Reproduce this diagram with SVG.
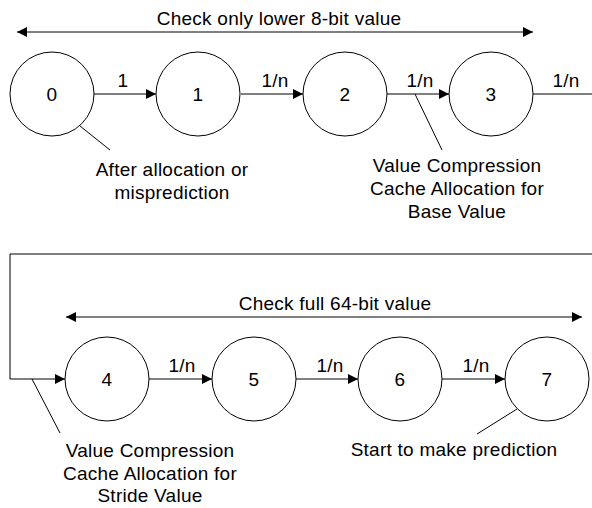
<svg xmlns="http://www.w3.org/2000/svg" width="592" height="508" viewBox="0 0 592 508">
  <style>
    .st { fill: #fff; stroke: #000; stroke-width: 1; }
    .ln { fill: none; stroke: #000; stroke-width: 1; }
    .t { font-family: "Liberation Sans", Arial, sans-serif; font-size: 19px; letter-spacing: 0.25px; fill: #000; text-anchor: middle; }
  </style>
  <defs>
    <marker id="arr" viewBox="0 0 10 10" refX="10" refY="5" markerWidth="10" markerHeight="10" markerUnits="userSpaceOnUse" orient="auto-start-reverse">
      <path d="M0,0 L10,5 L0,10 z" fill="#000"/>
    </marker>
  </defs>

  <!-- connectors -->
  <g id="connectors">
    <!-- range markers -->
    <line class="ln" x1="17" y1="32" x2="533" y2="32" marker-start="url(#arr)" marker-end="url(#arr)"/>
    <line class="ln" x1="66" y1="317" x2="582" y2="317" marker-start="url(#arr)" marker-end="url(#arr)"/>
    <!-- top row transitions -->
    <line class="ln" x1="94" y1="94" x2="156" y2="94" marker-end="url(#arr)"/>
    <line class="ln" x1="241" y1="94" x2="303" y2="94" marker-end="url(#arr)"/>
    <line class="ln" x1="387" y1="94" x2="449" y2="94" marker-end="url(#arr)"/>
    <line class="ln" x1="533" y1="94" x2="600" y2="94"/>
    <!-- wrap-around into state 4 -->
    <polyline class="ln" points="600,254 10,254 10,379 65,379" marker-end="url(#arr)"/>
    <!-- bottom row transitions -->
    <line class="ln" x1="149" y1="379" x2="212" y2="379" marker-end="url(#arr)"/>
    <line class="ln" x1="296" y1="379" x2="358" y2="379" marker-end="url(#arr)"/>
    <line class="ln" x1="442" y1="379" x2="505" y2="379" marker-end="url(#arr)"/>
    <!-- callout leaders -->
    <line class="ln" x1="80" y1="126" x2="110" y2="150"/>
    <line class="ln" x1="415" y1="94" x2="442" y2="150"/>
    <line class="ln" x1="32" y1="379" x2="60" y2="433"/>
    <line class="ln" x1="517" y1="409" x2="477" y2="434"/>
  </g>

  <!-- transition labels -->
  <g id="edge-labels">
    <text class="t" x="123" y="87">1</text>
    <text class="t" x="275" y="87">1/n</text>
    <text class="t" x="420" y="87">1/n</text>
    <text class="t" x="566" y="87">1/n</text>
    <text class="t" x="182" y="372">1/n</text>
    <text class="t" x="330" y="372">1/n</text>
    <text class="t" x="476" y="372">1/n</text>
  </g>

  <!-- states -->
  <g id="s0"><circle class="st" cx="52" cy="94" r="42"/><text class="t" x="52" y="101">0</text></g>
  <g id="s1"><circle class="st" cx="198" cy="94" r="42"/><text class="t" x="198" y="101">1</text></g>
  <g id="s2"><circle class="st" cx="345" cy="94" r="42"/><text class="t" x="345" y="101">2</text></g>
  <g id="s3"><circle class="st" cx="491" cy="94" r="42"/><text class="t" x="491" y="101">3</text></g>
  <g id="s4"><circle class="st" cx="107" cy="379" r="42"/><text class="t" x="107" y="386">4</text></g>
  <g id="s5"><circle class="st" cx="254" cy="379" r="42"/><text class="t" x="254" y="386">5</text></g>
  <g id="s6"><circle class="st" cx="400" cy="379" r="42"/><text class="t" x="400" y="386">6</text></g>
  <g id="s7"><circle class="st" cx="547" cy="379" r="42"/><text class="t" x="547" y="386">7</text></g>

  <!-- annotations -->
  <g id="notes">
    <text class="t" x="279" y="25">Check only lower 8-bit value</text>
    <text class="t" x="335" y="310">Check full 64-bit value</text>
    <text class="t" x="172" y="176">After allocation or</text>
    <text class="t" x="172" y="199">misprediction</text>
    <text class="t" x="457" y="172">Value Compression</text>
    <text class="t" x="457" y="195">Cache Allocation for</text>
    <text class="t" x="457" y="218">Base Value</text>
    <text class="t" x="150" y="457">Value Compression</text>
    <text class="t" x="150" y="480">Cache Allocation for</text>
    <text class="t" x="150" y="502">Stride Value</text>
    <text class="t" x="454" y="456">Start to make prediction</text>
  </g>
</svg>
